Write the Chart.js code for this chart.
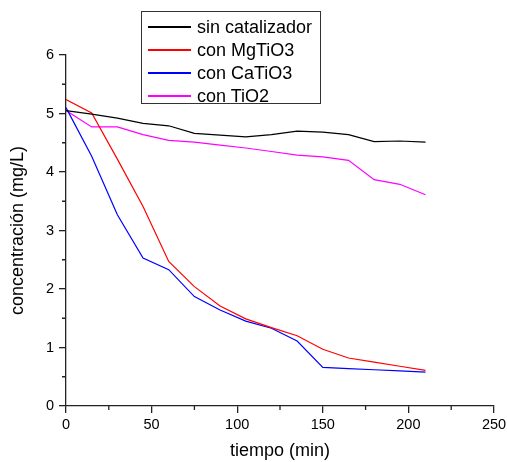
<!DOCTYPE html>
<html>
<head>
<meta charset="utf-8">
<script src="https://cdn.jsdelivr.net/npm/chart.js@4"></script>
<style>
  body { margin: 0; background: #fff; }
  #wrap { position: relative; width: 507px; height: 462px; }
  #legend {
    position: absolute; left: 141px; top: 11px; width: 180px; height: 93px;
    border: 1.5px solid #333; background: #fff; box-sizing: border-box;
    font: 18px "Liberation Sans", Arial, sans-serif; color: #000; padding-top: 3.5px;
  }
  #legend .row { display: flex; align-items: center; height: 23px; }
  #legend .swatch { width: 43px; height: 1.5px; margin: 0 6px 0 6px; }
</style>
</head>
<body>
<div id="wrap">
  <canvas id="chart"></canvas>
  <div id="legend"></div>
</div>
<script>
// time in minutes
const tiempo = [0, 15, 30, 45, 60, 75, 90, 105, 120, 135, 150, 165, 180, 195, 210];

const sinCatalizador = [5.05, 4.99, 4.92, 4.83, 4.79, 4.66, 4.63, 4.60, 4.64, 4.70, 4.68, 4.64, 4.52, 4.53, 4.51];
const conMgTiO3 = [5.24, 5.01, 4.22, 3.41, 2.47, 2.04, 1.71, 1.49, 1.34, 1.20, 0.97, 0.82, 0.75, 0.68, 0.61];
const conCaTiO3 = [5.10, 4.27, 3.27, 2.53, 2.33, 1.87, 1.64, 1.45, 1.33, 1.11, 0.66, 0.64, 0.62, 0.60, 0.58];
const conTiO2 = [5.05, 4.77, 4.77, 4.64, 4.54, 4.51, 4.46, 4.41, 4.35, 4.29, 4.26, 4.20, 3.87, 3.79, 3.61];

const seriesNames = ['sin catalizador', 'con MgTiO3', 'con CaTiO3', 'con TiO2'];
const seriesValues = [sinCatalizador, conMgTiO3, conCaTiO3, conTiO2];
const seriesColors = ['#000000', '#ff0000', '#0000ff', '#ff00ff'];

const xTicksMinor = [25, 75, 125, 175, 225];
const yTicksMinor = [0.5, 1.5, 2.5, 3.5, 4.5, 5.5];

const FONT = '"Liberation Sans", Arial, sans-serif';

// legend (html)
const legendBox = document.getElementById('legend');
seriesNames.forEach((name, i) => {
  const row = document.createElement('div');
  row.className = 'row';
  const sw = document.createElement('span');
  sw.className = 'swatch';
  sw.style.background = seriesColors[i];
  row.appendChild(sw);
  row.appendChild(document.createTextNode(name));
  legendBox.appendChild(row);
});

// short minor ticks, drawn on the library's scales
const minorTicks = {
  id: 'minorTicks',
  afterDraw(chart) {
    const { ctx, chartArea, scales } = chart;
    ctx.save();
    ctx.strokeStyle = '#222';
    ctx.lineWidth = 1.3;
    ctx.beginPath();
    xTicksMinor.forEach(v => {
      const px = scales.x.getPixelForValue(v);
      ctx.moveTo(px, chartArea.bottom);
      ctx.lineTo(px, chartArea.bottom + 4);
    });
    yTicksMinor.forEach(v => {
      const py = scales.y.getPixelForValue(v);
      ctx.moveTo(chartArea.left, py);
      ctx.lineTo(chartArea.left - 4, py);
    });
    ctx.stroke();
    ctx.restore();
  }
};

const datasets = seriesNames.map((name, i) => ({
  label: name,
  data: tiempo.map((t, j) => ({ x: t, y: seriesValues[i][j] })),
  borderColor: seriesColors[i],
  backgroundColor: 'transparent',
  borderWidth: 1.2,
  pointRadius: 0,
  tension: 0,
}));

new Chart(document.getElementById('chart').getContext('2d'), {
  type: 'line',
  data: { datasets },
  options: {
    animation: false,
    responsive: true,
    maintainAspectRatio: false,
    devicePixelRatio: 1,
    layout: { padding: { top: 55, right: 13, left: 0, bottom: 0 } },
    plugins: { legend: { display: false }, tooltip: { enabled: false } },
    scales: {
      x: {
        type: 'linear', min: 0, max: 250,
        afterFit: (s) => { s.height = 56; s.paddingRight = 0; },
        border: { display: true, color: '#222', width: 1.3 },
        grid: { drawOnChartArea: false, tickLength: 7, color: '#222', lineWidth: 1.3 },
        ticks: { stepSize: 50, color: '#000', padding: 3, maxRotation: 0, font: { family: FONT, size: 14.5 } },
        title: { display: true, text: 'tiempo (min)', color: '#000', padding: { top: 0, bottom: 0 }, font: { family: FONT, size: 18 } },
      },
      y: {
        min: 0, max: 6,
        afterFit: (s) => { s.width = 66; },
        border: { display: true, color: '#222', width: 1.3 },
        grid: { drawOnChartArea: false, tickLength: 7, color: '#222', lineWidth: 1.3 },
        ticks: { stepSize: 1, color: '#000', padding: 5, font: { family: FONT, size: 14.5 } },
        title: { display: true, text: 'concentración (mg/L)', color: '#000', padding: { top: 7, bottom: 0 }, font: { family: FONT, size: 18 } },
      },
    },
  },
  plugins: [minorTicks],
});
</script>
</body>
</html>
